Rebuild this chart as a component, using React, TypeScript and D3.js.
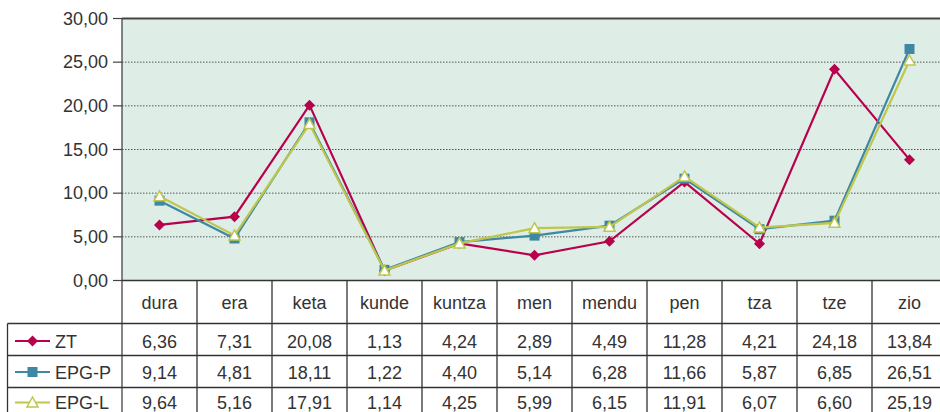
import React from 'react';
import * as d3 from 'd3';

const categories = ['dura', 'era', 'keta', 'kunde', 'kuntza', 'men', 'mendu', 'pen', 'tza', 'tze', 'zio'];
const seriesNames = ['ZT', 'EPG-P', 'EPG-L'];
const ztValues = [6.36, 7.31, 20.08, 1.13, 4.24, 2.89, 4.49, 11.28, 4.21, 24.18, 13.84];
const epgPValues = [9.14, 4.81, 18.11, 1.22, 4.4, 5.14, 6.28, 11.66, 5.87, 6.85, 26.51];
const epgLValues = [9.64, 5.16, 17.91, 1.14, 4.25, 5.99, 6.15, 11.91, 6.07, 6.6, 25.19];
const yTicks = [0, 5, 10, 15, 20, 25, 30];

const colors = ['#b8004c', '#3f88a4', '#bec74c'];
const FONT = '"Liberation Sans", Arial, sans-serif';

const fmt = (v: number) => v.toFixed(2).replace('.', ',');

export default function App() {
  const W = 940, H = 412;
  const left = 122, top = 18.5, bottom = 280.5;
  const x = d3.scaleBand<string>().domain(categories).range([left, left + 75 * categories.length]).padding(0);
  const y = d3.scaleLinear().domain([0, 30]).range([bottom, top]);
  const rowY = [323.5, 355.5, 387.5, 419.5];
  // text centres of the table rows (last row is cut by the page edge)
  const rowText = [341.5, 372.5, 403];
  const data = [ztValues, epgPValues, epgLValues];
  const line = d3.line<number>()
    .x((_, i) => x(categories[i])! + x.bandwidth() / 2)
    .y(d => y(d));

  const marker = (k: number, cx: number, cy: number) => {
    if (k === 0) {
      const s = 5.5;
      return <path d={`M${cx},${cy - s}L${cx + s},${cy}L${cx},${cy + s}L${cx - s},${cy}Z`} fill={colors[0]} />;
    }
    if (k === 1) {
      return <rect x={cx - 5} y={cy - 5} width={10} height={10} fill={colors[1]} />;
    }
    return <path d={`M${cx},${cy - 5.5}L${cx + 5.5},${cy + 4.5}L${cx - 5.5},${cy + 4.5}Z`} fill="#fff" stroke={colors[2]} strokeWidth={1.5} />;
  };

  return (
    <svg width={W} height={H} style={{ position: 'absolute', left: 0, top: 0 }} fontFamily={FONT}>
      <rect x={left} y={top} width={W - left} height={bottom - top} fill="#deeee7" />
      {yTicks.map(t => (
        <g key={t}>
          {t > 0 && t < 30 && (
            <line x1={left} x2={W} y1={y(t)} y2={y(t)} stroke="#555" strokeWidth={1} strokeDasharray="1.5,1.5" />
          )}
          <line x1={113} x2={left} y1={y(t)} y2={y(t)} stroke="#444" strokeWidth={1.2} />
          <text x={108} y={y(t)} textAnchor="end" dominantBaseline="central" fontSize={18} fill="#333">{fmt(t)}</text>
        </g>
      ))}
      <line x1={left} x2={W} y1={top} y2={top} stroke="#444" strokeWidth={2} />
      <line x1={left} x2={left} y1={top} y2={H} stroke="#444" strokeWidth={1.3} />

      {data.map((vals, k) => (
        <g key={k}>
          <path d={line(vals)!} fill="none" stroke={colors[k]} strokeWidth={2.2} />
          {vals.map((v, i) => <g key={i}>{marker(k, x(categories[i])! + x.bandwidth() / 2, y(v))}</g>)}
        </g>
      ))}

      {/* table */}
      <line x1={left} x2={W} y1={bottom} y2={bottom} stroke="#333" strokeWidth={1.3} />
      {rowY.slice(0, 3).map(ry => (
        <line key={ry} x1={7.5} x2={W} y1={ry} y2={ry} stroke="#333" strokeWidth={1.3} />
      ))}
      <line x1={7.5} x2={7.5} y1={rowY[0]} y2={H} stroke="#333" strokeWidth={1.3} />
      {categories.map((c, i) => (
        <g key={c}>
          {i > 0 && <line x1={x(c)!} x2={x(c)!} y1={bottom} y2={H} stroke="#333" strokeWidth={1.3} />}
          <text x={x(c)! + x.bandwidth() / 2} y={302.5} textAnchor="middle" dominantBaseline="central" fontSize={18} fill="#333">{c}</text>
          {data.map((vals, k) => (
            <text key={k} x={x(c)! + x.bandwidth() / 2} y={rowText[k]} textAnchor="middle" dominantBaseline="central" fontSize={18} fill="#333">{fmt(vals[i])}</text>
          ))}
        </g>
      ))}
      {seriesNames.map((s, k) => {
        const cy = rowText[k] - 0.5;
        return (
          <g key={s}>
            <line x1={15} x2={50} y1={cy} y2={cy} stroke={colors[k]} strokeWidth={2.2} />
            {marker(k, 32.5, cy)}
            <text x={55} y={rowText[k]} dominantBaseline="central" fontSize={18} fill="#333">{s}</text>
          </g>
        );
      })}
    </svg>
  );
}
